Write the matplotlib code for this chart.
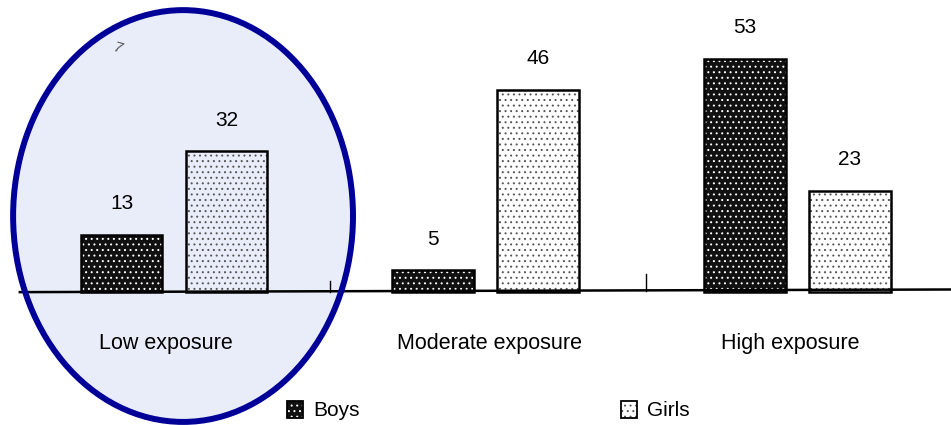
import matplotlib
matplotlib.use("Agg")
import matplotlib.pyplot as plt
from matplotlib.patches import Ellipse, Rectangle
import numpy as np

plt.rcParams['font.family'] = ['Liberation Sans', 'DejaVu Sans']
plt.rcParams['hatch.linewidth'] = 0.7

# data
groups = ["Low exposure", "Moderate exposure", "High exposure"]
boys = [13, 5, 53]
girls = [32, 46, 23]
series = ["Boys", "Girls"]

fig = plt.figure(figsize=(9.51, 4.25), dpi=100)
ax = fig.add_axes([0, 0, 1, 1])
ax.set_xlim(-0.5586, 2.494)
ax.set_ylim(-30.2, 66.4)
ax.axis("off")

x = np.arange(len(groups))
w = 0.263
off = 0.1685
label_shift = [-0.026, 0.014, -0.022]  # group labels sit a bit off centre in the scan

# highlight ellipse fill (behind the bars)
ax.add_patch(Ellipse((0.029, 17.3), 1.091, 93.6, facecolor="#e9edf9",
                     edgecolor="none", zorder=1))

# dark bars: black with white stipple
ax.bar(x - off, boys, w, color="#111111", edgecolor="white", hatch="...", linewidth=0, zorder=2)
ax.bar(x - off, boys, w, fill=False, edgecolor="black", linewidth=1.8, zorder=3)
# light bars: no fill, black stipple
ax.bar(x + off, girls, w, facecolor="none", edgecolor="#555555", hatch="...", linewidth=0, zorder=2)
ax.bar(x + off, girls, w, fill=False, edgecolor="black", linewidth=1.8, zorder=3)

for xi, v in zip(x - off, boys):
    ax.text(xi, v + 4.9, str(v), ha="center", va="bottom", fontsize=15, zorder=4)
for xi, v in zip(x + off, girls):
    ax.text(xi, v + 4.9, str(v), ha="center", va="bottom", fontsize=15, zorder=4)

# baseline and small dividers
ax.plot([-0.495, 2.494], [0, 0.6], color="black", linewidth=1.8, zorder=3)
ax.plot([0.50, 0.50], [0, 2.5], color="black", linewidth=1, zorder=3)
ax.plot([1.515, 1.515], [0.3, 4.2], color="black", linewidth=1, zorder=3)

for xi, s, g in zip(x, label_shift, groups):
    ax.text(xi + s, -11.6, g, ha="center", va="center", fontsize=15.5, zorder=4)

# legend
lx = [0.363, 1.435]
for xx, name, fc, hc in zip(lx, series, ["#111111", "white"], ["white", "#555555"]):
    ax.add_patch(Rectangle((xx, -28.6), 0.05, 3.9, facecolor=fc, edgecolor=hc,
                           hatch="...", linewidth=0, zorder=3))
    ax.add_patch(Rectangle((xx, -28.6), 0.05, 3.9, fill=False, edgecolor="black",
                           linewidth=1.3, zorder=3))
    ax.text(xx + 0.083, -27.0, name, ha="left", va="center", fontsize=15, zorder=4)

# scan artefact
ax.text(-0.18, 55.5, "7", fontsize=11, color="#555555", rotation=-15,
        ha="center", va="center", style="italic", zorder=4)

# highlight ellipse outline
ax.add_patch(Ellipse((0.029, 17.3), 1.091, 93.6, fill=False, edgecolor="#000099",
                     linewidth=4.3, zorder=6))

fig.savefig("out.png", dpi=100)
